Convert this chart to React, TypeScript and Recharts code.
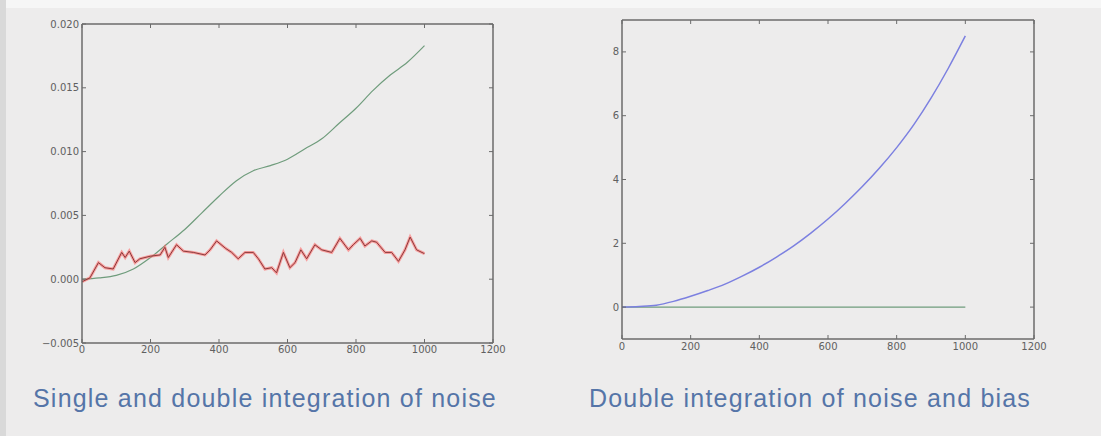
import { LineChart, Line, XAxis, YAxis, ReferenceLine } from "recharts";

// left chart: single (red) and double (green) integration of noise
const noiseDoubleX = [0, 50, 100, 150, 200, 250, 300, 350, 400, 450, 500, 550, 600, 650, 700, 750, 800, 850, 900, 950, 1000];
const noiseDoubleY = [0, 0.0001, 0.0003, 0.0008, 0.0017, 0.0028, 0.0039, 0.0052, 0.0065, 0.0077, 0.0085, 0.0089, 0.0094, 0.0102, 0.011, 0.0122, 0.0134, 0.0148, 0.016, 0.017, 0.0183];

const noiseSingleX = [0, 23, 48, 67, 91, 116, 126, 138, 155, 169, 199, 228, 242, 252, 276, 296, 325, 359, 374, 393, 420, 437, 456, 476, 500, 515, 534, 554, 568, 588, 607, 622, 639, 656, 680, 700, 729, 753, 778, 792, 812, 826, 846, 860, 885, 904, 924, 943, 958, 977, 1000];
const noiseSingleY = [-0.0002, 0.0001, 0.0013, 0.0009, 0.0008, 0.0021, 0.0017, 0.0022, 0.0013, 0.0016, 0.0018, 0.0019, 0.0025, 0.0017, 0.0027, 0.0022, 0.0021, 0.0019, 0.0023, 0.003, 0.0024, 0.0021, 0.0016, 0.0021, 0.0021, 0.0016, 0.0008, 0.0009, 0.0005, 0.0021, 0.0009, 0.0013, 0.0023, 0.0016, 0.0027, 0.0023, 0.0021, 0.0032, 0.0023, 0.0027, 0.0032, 0.0026, 0.003, 0.0029, 0.0021, 0.0021, 0.0014, 0.0023, 0.0033, 0.0023, 0.002];

// right chart: double integration of noise and bias
const biasX = [0, 50, 100, 150, 200, 250, 300, 350, 400, 450, 500, 550, 600, 650, 700, 750, 800, 850, 900, 950, 1000];
const biasY = [0, 0.02, 0.06, 0.18, 0.34, 0.52, 0.72, 0.97, 1.25, 1.57, 1.92, 2.32, 2.76, 3.25, 3.78, 4.36, 5.0, 5.72, 6.55, 7.48, 8.5];
const flatX = [0, 1000];
const flatY = [0, 0];

const xTicks = [0, 200, 400, 600, 800, 1000, 1200];
const leftYTicks = [-0.005, 0, 0.005, 0.01, 0.015, 0.02];
const rightYTicks = [0, 2, 4, 6, 8];

const toPoints = (xs: number[], ys: number[]) => xs.map((x, i) => ({ x, y: ys[i] }));

const AXIS = "#6b6b6b";
const TICK_TEXT = "#606060";
const TICK_FONT = "DejaVu Sans";
const TICK_SIZE = 10;

const XTick = ({ x, y, payload, plotH, dy }: any) => (
  <g>
    <line x1={x} x2={x} y1={y} y2={y - 4} stroke={AXIS} />
    <line x1={x} x2={x} y1={y - plotH} y2={y - plotH + 4} stroke={AXIS} />
    <text x={x} y={y + dy} textAnchor="middle" fontSize={TICK_SIZE} fill={TICK_TEXT} fontFamily={TICK_FONT}>
      {payload.value}
    </text>
  </g>
);

const YTick = ({ x, y, payload, plotW, fmt }: any) => (
  <g>
    <line x1={x} x2={x + 4} y1={y} y2={y} stroke={AXIS} />
    <line x1={x + plotW} x2={x + plotW - 4} y1={y} y2={y} stroke={AXIS} />
    <text x={x - 3} y={y + 3.5} textAnchor="end" fontSize={TICK_SIZE} fill={TICK_TEXT} fontFamily={TICK_FONT}>
      {fmt(payload.value)}
    </text>
  </g>
);

const fmtLeft = (v: number) => (v < 0 ? "\u2212" + Math.abs(v).toFixed(3) : v.toFixed(3));
const fmtRight = (v: number) => String(v);

const Title = ({ left, text }: { left: number; text: string }) => (
  <div
    style={{
      position: "absolute",
      left,
      top: 384,
      width: 520,
      textAlign: "center",
      fontFamily: "Liberation Sans, Arial, sans-serif",
      fontSize: 25,
      letterSpacing: 1.2,
      color: "#5575a8",
      whiteSpace: "nowrap",
    }}
  >
    {text}
  </div>
);

export default function App() {
  const leftPlotW = 411;
  const leftPlotH = 319;
  const rightPlotW = 412;
  const rightPlotH = 319;

  return (
    <div
      style={{
        position: "absolute",
        left: 0,
        top: 0,
        width: 1101,
        height: 436,
        background: "#edecec",
        overflow: "hidden",
      }}
    >
      <div style={{ position: "absolute", left: 0, top: 0, width: 1101, height: 8, background: "#f6f6f6" }} />
      <div style={{ position: "absolute", left: 0, top: 0, width: 6, height: 436, background: "#d9d9d9" }} />

      <div style={{ position: "absolute", left: 0, top: 0 }}>
        <LineChart width={520} height={370} margin={{ top: 24, right: 27, left: 0, bottom: 0 }}>
          <XAxis
            type="number"
            dataKey="x"
            domain={[0, 1200]}
            ticks={xTicks}
            interval={0}
            height={27}
            tickSize={0}
            tickMargin={0}
            tickLine={false}
            axisLine={{ stroke: AXIS, strokeWidth: 1.5 }}
            tick={(p: any) => <XTick {...p} plotH={leftPlotH} dy={10} />}
          />
          <YAxis
            type="number"
            domain={[-0.005, 0.02]}
            ticks={leftYTicks}
            interval={0}
            width={82}
            tickSize={0}
            tickMargin={0}
            tickLine={false}
            axisLine={{ stroke: AXIS, strokeWidth: 1.5 }}
            tick={(p: any) => <YTick {...p} plotW={leftPlotW} fmt={fmtLeft} />}
          />
          <ReferenceLine y={0.02} stroke={AXIS} strokeWidth={1.5} />
          <ReferenceLine x={1200} stroke={AXIS} strokeWidth={1.5} />
          <Line
            data={toPoints(noiseDoubleX, noiseDoubleY)}
            dataKey="y"
            type="monotone"
            stroke="#6f9c7c"
            strokeWidth={1.2}
            dot={false}
            isAnimationActive={false}
          />
          <Line
            data={toPoints(noiseSingleX, noiseSingleY)}
            dataKey="y"
            type="linear"
            stroke="#ff6b6b"
            strokeOpacity={0.6}
            strokeWidth={3}
            dot={false}
            isAnimationActive={false}
          />
          <Line
            data={toPoints(noiseSingleX, noiseSingleY)}
            dataKey="y"
            type="linear"
            stroke="#8a3a3a"
            strokeWidth={1}
            dot={false}
            isAnimationActive={false}
          />
        </LineChart>
      </div>

      <div style={{ position: "absolute", left: 540, top: 0 }}>
        <LineChart width={530} height={370} margin={{ top: 20, right: 36, left: 0, bottom: 0 }}>
          <XAxis
            type="number"
            dataKey="x"
            domain={[0, 1200]}
            ticks={xTicks}
            interval={0}
            height={31}
            tickSize={0}
            tickMargin={0}
            tickLine={false}
            axisLine={{ stroke: AXIS, strokeWidth: 1.5 }}
            tick={(p: any) => <XTick {...p} plotH={rightPlotH} dy={11} />}
          />
          <YAxis
            type="number"
            domain={[-1, 9]}
            ticks={rightYTicks}
            interval={0}
            width={82}
            tickSize={0}
            tickMargin={0}
            tickLine={false}
            axisLine={{ stroke: AXIS, strokeWidth: 1.5 }}
            tick={(p: any) => <YTick {...p} plotW={rightPlotW} fmt={fmtRight} />}
          />
          <ReferenceLine y={9} stroke={AXIS} strokeWidth={1.5} />
          <ReferenceLine x={1200} stroke={AXIS} strokeWidth={1.5} />
          <Line
            data={toPoints(flatX, flatY)}
            dataKey="y"
            type="linear"
            stroke="#6f9c7c"
            strokeWidth={1.2}
            dot={false}
            isAnimationActive={false}
          />
          <Line
            data={toPoints(biasX, biasY)}
            dataKey="y"
            type="monotone"
            stroke="#7c80e0"
            strokeWidth={1.5}
            dot={false}
            isAnimationActive={false}
          />
        </LineChart>
      </div>

      <Title left={5} text="Single and double integration of noise" />
      <Title left={550} text="Double integration of noise and bias" />
    </div>
  );
}
